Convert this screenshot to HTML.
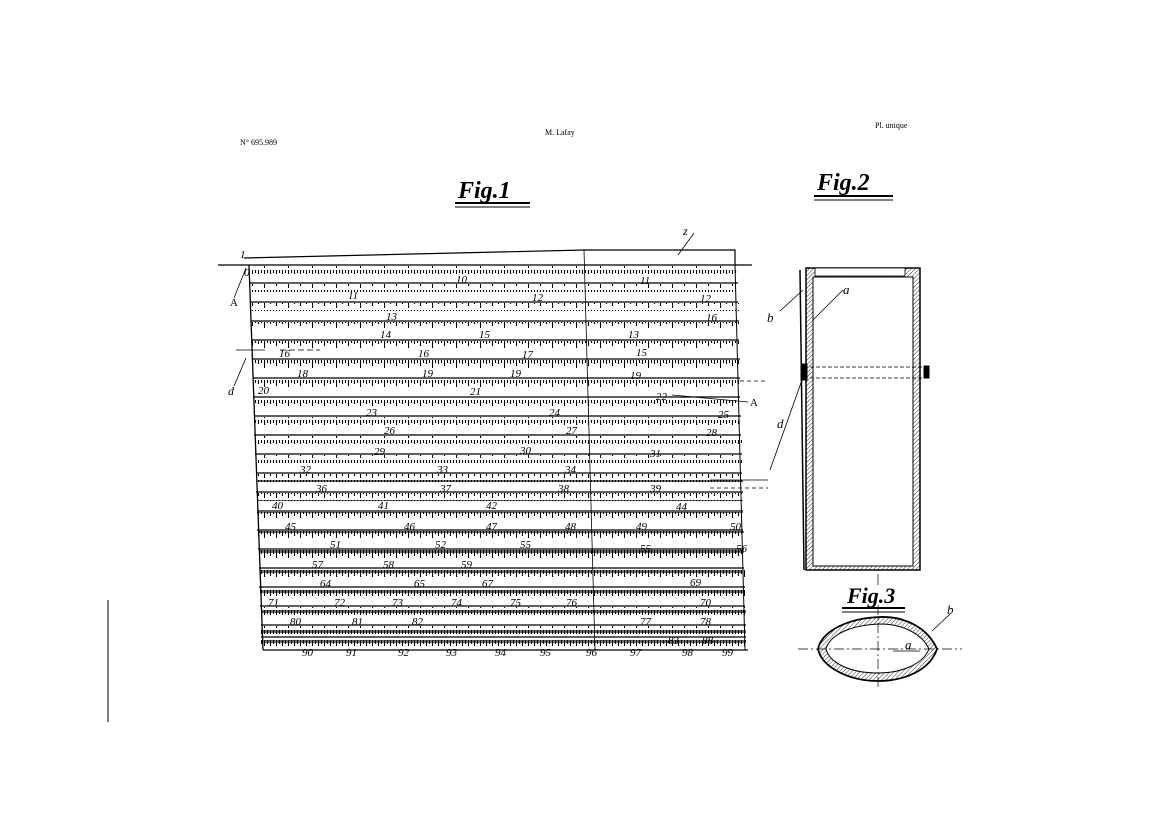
<!DOCTYPE html>
<html><head><meta charset="utf-8"><style>
body{margin:0;background:#fff;}
svg{display:block;font-family:"Liberation Serif",serif;}
</style></head><body>
<svg width="1169" height="826" viewBox="0 0 1169 826" xmlns="http://www.w3.org/2000/svg">
<defs>
<pattern id="t1" width="24" height="10" patternUnits="userSpaceOnUse">
<path d="M0.5 0V8M12.5 0V6M6.5 0V4M18.5 0V4M3.5 0V3M9.5 0V3M15.5 0V3M21.5 0V3" stroke="#000" stroke-width="1.1"/>
</pattern>
<pattern id="t2" width="12" height="10" patternUnits="userSpaceOnUse">
<path d="M0.5 0V8M6.5 0V6M3.5 0V4M9.5 0V4M2 0V3M5 0V3M8 0V3M11 0V3" stroke="#000" stroke-width="1.1"/>
</pattern>
<pattern id="hat" width="3" height="3" patternUnits="userSpaceOnUse" patternTransform="rotate(45)">
<path d="M0 0V3" stroke="#000" stroke-width="0.8"/>
</pattern>
</defs>
<rect width="1169" height="826" fill="#fff"/>
<line x1="108" y1="600" x2="108" y2="722" stroke="#000" stroke-width="1"/>
<text x="240" y="145" font-size="8">N° 695.989</text>
<text x="545" y="135" font-size="8">M. Lafay</text>
<text x="875" y="128" font-size="8">Pl. unique</text>
<text x="458" y="198" font-size="24" font-style="italic" font-weight="bold">Fig.1</text>
<line x1="455" y1="203" x2="530" y2="203" stroke="#000" stroke-width="2"/>
<line x1="455" y1="207" x2="530" y2="207" stroke="#000"/>
<text x="817" y="190" font-size="24" font-style="italic" font-weight="bold">Fig.2</text>
<line x1="814" y1="196" x2="893" y2="196" stroke="#000" stroke-width="2"/>
<line x1="814" y1="200" x2="893" y2="200" stroke="#000"/>
<text x="847" y="603" font-size="22" font-style="italic" font-weight="bold">Fig.3</text>
<line x1="842" y1="608" x2="905" y2="608" stroke="#000" stroke-width="2"/>
<line x1="842" y1="612" x2="905" y2="612" stroke="#000"/>

<g stroke="#000" fill="none">
<path d="M244 258 L585 250 L735 250 L735 265" stroke-width="1.2"/>
<line x1="218" y1="265" x2="752" y2="265" stroke-width="1.3"/>
<line x1="249" y1="265" x2="263" y2="650" stroke-width="1.3"/>
<line x1="735" y1="265" x2="745" y2="650" stroke-width="1"/>
<line x1="263" y1="650" x2="748" y2="650" stroke-width="1.2"/>
<line x1="584" y1="250" x2="595" y2="650" stroke-width="0.8"/>
</g>
<g stroke="#000" stroke-width="1.2">
<line x1="250" y1="283" x2="738" y2="283"/><line x1="251" y1="302" x2="738" y2="302"/>
<line x1="251" y1="321" x2="739" y2="321"/><line x1="252" y1="340" x2="739" y2="340"/>
<line x1="252" y1="359" x2="740" y2="359"/><line x1="253" y1="378" x2="740" y2="378"/>
<line x1="253" y1="397" x2="740" y2="397"/><line x1="254" y1="416" x2="741" y2="416"/>
<line x1="254" y1="435" x2="741" y2="435"/><line x1="255" y1="454" x2="742" y2="454"/>
<line x1="256" y1="473" x2="742" y2="473"/><line x1="256" y1="492" x2="743" y2="492"/>
<line x1="257" y1="511" x2="743" y2="511"/><line x1="257" y1="530" x2="743" y2="530"/>
<line x1="258" y1="549" x2="744" y2="549"/><line x1="259" y1="568" x2="744" y2="568"/>
<line x1="259" y1="587" x2="745" y2="587"/><line x1="260" y1="606" x2="745" y2="606"/>
<line x1="261" y1="625" x2="746" y2="625"/><line x1="261" y1="637" x2="746" y2="637"/>
</g>
<g>
<rect x="250" y="266" width="488" height="8" fill="url(#t1)"/>
<rect x="251" y="284" width="487" height="8" fill="url(#t1)"/>
<rect x="251" y="303" width="488" height="8" fill="url(#t1)"/>
<rect x="252" y="322" width="487" height="8" fill="url(#t1)"/>
<rect x="252" y="341" width="488" height="8" fill="url(#t1)"/>
<rect x="253" y="360" width="487" height="8" fill="url(#t1)"/>
<rect x="253" y="379" width="487" height="8" fill="url(#t1)"/>
<rect x="254" y="398" width="487" height="8" fill="url(#t1)"/>
<rect x="254" y="417" width="487" height="8" fill="url(#t1)"/>
<rect x="255" y="436" width="487" height="8" fill="url(#t1)"/>
<rect x="256" y="455" width="486" height="8" fill="url(#t1)"/>
<rect x="256" y="474" width="487" height="8" fill="url(#t2)"/>
<rect x="257" y="493" width="486" height="8" fill="url(#t2)"/>
<rect x="257" y="512" width="486" height="8" fill="url(#t2)"/>
<rect x="258" y="531" width="486" height="8" fill="url(#t2)"/>
<rect x="259" y="550" width="485" height="8" fill="url(#t2)"/>
<rect x="259" y="569" width="486" height="8" fill="url(#t2)"/>
<rect x="260" y="588" width="485" height="8" fill="url(#t2)"/>
<rect x="261" y="607" width="485" height="8" fill="url(#t2)"/>
<rect x="261" y="626" width="485" height="8" fill="url(#t2)"/>
<rect x="261" y="638" width="485" height="8" fill="url(#t2)"/>
</g>
<g font-size="11" font-style="italic">
<text x="240" y="258" font-size="11">1</text><text x="244" y="276">0</text>
<text x="456" y="283">10</text><text x="348" y="299">11</text><text x="532" y="301">12</text>
<text x="386" y="320">13</text><text x="380" y="338">14</text><text x="479" y="338">15</text>
<text x="279" y="357">16</text><text x="418" y="357">16</text><text x="522" y="358">17</text>
<text x="297" y="377">18</text><text x="422" y="377">19</text><text x="510" y="377">19</text>
<text x="258" y="394">20</text><text x="470" y="395">21</text><text x="366" y="416">23</text>
<text x="549" y="416">24</text><text x="384" y="434">26</text><text x="566" y="434">27</text>
<text x="520" y="454">30</text><text x="374" y="455">29</text><text x="300" y="473">32</text>
<text x="437" y="473">33</text><text x="565" y="473">34</text><text x="316" y="492">36</text>
<text x="440" y="492">37</text><text x="558" y="492">38</text><text x="272" y="509">40</text>
<text x="378" y="509">41</text><text x="486" y="509">42</text><text x="285" y="530">45</text>
<text x="404" y="530">46</text><text x="486" y="530">47</text><text x="565" y="530">48</text>
<text x="330" y="548">51</text><text x="435" y="548">52</text><text x="520" y="548">55</text>
<text x="312" y="568">57</text><text x="383" y="568">58</text><text x="461" y="568">59</text>
<text x="320" y="587">64</text><text x="414" y="587">65</text><text x="482" y="587">67</text>
<text x="268" y="606">71</text><text x="334" y="606">72</text><text x="392" y="606">73</text>
<text x="451" y="606">74</text><text x="510" y="606">75</text><text x="566" y="606">76</text>
<text x="290" y="625">80</text><text x="352" y="625">81</text><text x="412" y="625">82</text>
<text x="302" y="656">90</text><text x="346" y="656">91</text><text x="398" y="656">92</text>
<text x="446" y="656">93</text><text x="495" y="656">94</text><text x="540" y="656">95</text>
<text x="586" y="656">96</text><text x="630" y="656">97</text><text x="682" y="656">98</text>
<text x="722" y="656">99</text>
<text x="640" y="284">11</text><text x="700" y="302">12</text><text x="706" y="321">16</text>
<text x="628" y="338">13</text><text x="636" y="356">15</text><text x="630" y="379">19</text>
<text x="656" y="400">22</text><text x="718" y="418">25</text><text x="706" y="436">28</text>
<text x="650" y="457">31</text><text x="650" y="492">39</text><text x="676" y="510">44</text>
<text x="636" y="530">49</text><text x="730" y="530">50</text><text x="640" y="552">55</text>
<text x="736" y="552">56</text><text x="690" y="586">69</text><text x="700" y="606">70</text>
<text x="640" y="625">77</text><text x="700" y="625">78</text><text x="668" y="644">83</text><text x="702" y="644">88</text>
<text x="230" y="306" font-style="normal" font-size="11">A</text>
<text x="228" y="395" font-size="12">d</text>
<text x="750" y="406" font-size="11" font-style="normal">A</text>
<text x="683" y="235" font-size="12">z</text>
</g>
<g stroke="#000" stroke-width="0.8" fill="none">
<line x1="234" y1="298" x2="246" y2="268"/>
<line x1="234" y1="386" x2="246" y2="358"/>
<line x1="678" y1="255" x2="694" y2="233"/>
<line x1="672" y1="395" x2="748" y2="402"/>
<line x1="236" y1="350" x2="265" y2="350"/>
<line x1="280" y1="350" x2="320" y2="350" stroke-dasharray="6 3"/>
<line x1="740" y1="381" x2="765" y2="381" stroke-dasharray="4 3"/>
<line x1="710" y1="480" x2="768" y2="480"/>
<line x1="710" y1="488" x2="768" y2="488" stroke-dasharray="4 3"/>
</g>

<g stroke="#000" fill="none">
<rect x="806" y="268" width="114" height="302" fill="url(#hat)" stroke-width="1.5"/>
<rect x="813" y="277" width="100" height="289" fill="#fff" stroke-width="1"/>
<rect x="815" y="268" width="90" height="8" fill="#fff" stroke-width="0.8"/>
<line x1="800" y1="270" x2="804" y2="570" stroke-width="1.5"/>
<line x1="810" y1="367" x2="925" y2="367" stroke-dasharray="4 2" stroke-width="0.7"/>
<line x1="810" y1="378" x2="925" y2="378" stroke-dasharray="4 2" stroke-width="0.7"/>
<rect x="801" y="364" width="6" height="16" fill="#000"/>
<rect x="924" y="366" width="5" height="12" fill="#000"/>
<line x1="780" y1="311" x2="803" y2="290" stroke-width="0.8"/>
<line x1="813" y1="320" x2="843" y2="290" stroke-width="0.8"/>
<line x1="770" y1="470" x2="802" y2="380" stroke-width="0.8"/>
<line x1="878" y1="574" x2="878" y2="585" stroke-width="0.7"/>
</g>
<g font-size="13" font-style="italic">
<text x="767" y="322">b</text><text x="843" y="294">a</text><text x="777" y="428">d</text>
</g>
<g stroke="#000" fill="none">
<path d="M818 649 C822 630 850 618 880 617 C905 616 928 628 937 649 C930 670 905 681 878 681 C850 681 822 668 818 649Z" fill="url(#hat)" stroke-width="1.8"/>
<path d="M826 649 C830 634 852 625 880 624 C903 624 922 634 929 649 C923 664 902 673 878 673 C852 673 830 664 826 649Z" fill="#fff" stroke-width="1"/>
<line x1="798" y1="649" x2="962" y2="649" stroke-dasharray="10 3 2 3" stroke-width="0.7"/>
<line x1="878" y1="605" x2="878" y2="690" stroke-dasharray="10 3 2 3" stroke-width="0.7"/>
<line x1="932" y1="631" x2="950" y2="614" stroke-width="0.8"/>
</g>
<g font-size="13" font-style="italic"><text x="947" y="614">b</text><text x="905" y="649">a</text></g>
<line x1="893" y1="651" x2="920" y2="651" stroke="#000" stroke-width="0.8"/>
</svg>
</body></html>
